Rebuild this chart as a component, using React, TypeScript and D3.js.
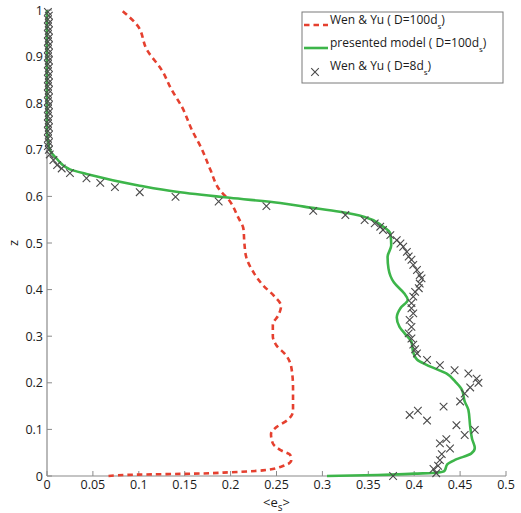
import React from "react";
import * as d3 from "d3";

const xTicks = [0, 0.05, 0.1, 0.15, 0.2, 0.25, 0.3, 0.35, 0.4, 0.45, 0.5];
const yTicks = [0, 0.1, 0.2, 0.3, 0.4, 0.5, 0.6, 0.7, 0.8, 0.9, 1];

// Wen & Yu (D=100ds): [e_s, z]
const wenYu100: [number, number][] = [
  [0.067, 0], [0.1, 0.003], [0.16, 0.005], [0.2, 0.008], [0.235, 0.012], [0.255, 0.02],
  [0.266, 0.033], [0.265, 0.045], [0.255, 0.055], [0.246, 0.07], [0.244, 0.09], [0.25, 0.105],
  [0.262, 0.12], [0.268, 0.14], [0.268, 0.19], [0.266, 0.235], [0.26, 0.26], [0.25, 0.28],
  [0.246, 0.3], [0.246, 0.325], [0.252, 0.345], [0.255, 0.365], [0.248, 0.385], [0.235, 0.41],
  [0.224, 0.44], [0.217, 0.47], [0.215, 0.5], [0.214, 0.53], [0.208, 0.556], [0.199, 0.59],
  [0.188, 0.614], [0.178, 0.657], [0.169, 0.7], [0.158, 0.742], [0.147, 0.792], [0.136, 0.828],
  [0.125, 0.871], [0.109, 0.914], [0.098, 0.968], [0.081, 1.0],
];

// presented model (D=100ds)
const model100: [number, number][] = [
  [0.305, 0], [0.36, 0.002], [0.4, 0.005], [0.425, 0.007], [0.433, 0.011], [0.436, 0.025],
  [0.445, 0.035], [0.462, 0.048], [0.466, 0.06], [0.463, 0.08], [0.461, 0.106], [0.459, 0.142],
  [0.455, 0.16], [0.452, 0.185], [0.446, 0.2], [0.435, 0.22], [0.414, 0.238], [0.403, 0.25],
  [0.399, 0.265], [0.397, 0.288], [0.39, 0.305], [0.384, 0.32], [0.381, 0.34], [0.385, 0.36],
  [0.393, 0.378], [0.389, 0.392], [0.378, 0.415], [0.372, 0.445], [0.371, 0.47], [0.375, 0.495],
  [0.374, 0.52], [0.364, 0.538], [0.346, 0.556], [0.319, 0.567], [0.28, 0.578], [0.254, 0.586],
  [0.199, 0.597], [0.141, 0.61], [0.101, 0.623], [0.043, 0.648], [0.025, 0.658], [0.011, 0.68],
  [0.003, 0.7], [0.001, 0.72], [0, 0.75], [0, 1.0],
];

// Wen & Yu (D=8ds) markers
const wenYu8: [number, number][] = [
  [0.377, 0], [0.424, 0.006], [0.421, 0.015], [0.426, 0.022], [0.428, 0.034], [0.43, 0.047],
  [0.439, 0.059], [0.428, 0.07], [0.435, 0.079], [0.455, 0.088], [0.466, 0.099], [0.446, 0.109],
  [0.414, 0.119], [0.395, 0.131], [0.404, 0.14], [0.432, 0.149], [0.45, 0.16], [0.455, 0.177],
  [0.461, 0.19], [0.47, 0.2], [0.468, 0.209], [0.459, 0.22], [0.444, 0.227], [0.428, 0.238],
  [0.414, 0.249], [0.403, 0.263], [0.401, 0.272], [0.399, 0.282], [0.397, 0.295], [0.394, 0.306],
  [0.397, 0.32], [0.395, 0.335], [0.399, 0.349], [0.397, 0.36], [0.397, 0.371], [0.399, 0.385],
  [0.401, 0.395], [0.405, 0.403], [0.406, 0.413], [0.408, 0.424], [0.406, 0.431], [0.403, 0.442],
  [0.399, 0.453], [0.397, 0.464], [0.394, 0.471], [0.392, 0.481], [0.388, 0.492], [0.385, 0.499],
  [0.381, 0.506], [0.374, 0.517], [0.366, 0.528], [0.363, 0.535], [0.357, 0.542], [0.346, 0.549],
  [0.325, 0.56], [0.29, 0.569], [0.239, 0.579], [0.187, 0.589], [0.14, 0.599], [0.101, 0.609],
  [0.074, 0.62], [0.058, 0.629], [0.043, 0.639], [0.025, 0.65], [0.016, 0.66], [0.011, 0.667],
  [0.007, 0.678], [0.003, 0.69], [0.002, 0.7], [0.001, 0.708], [0.002, 0.716], [0.001, 0.724],
  [0.002, 0.732], [0.001, 0.74], [0.002, 0.748], [0.001, 0.756], [0.002, 0.764], [0.001, 0.772],
  [0.002, 0.78], [0.001, 0.788], [0.002, 0.796], [0.001, 0.804], [0.002, 0.812], [0.001, 0.82],
  [0.002, 0.828], [0.001, 0.836], [0.002, 0.844], [0.001, 0.852], [0.002, 0.86], [0.001, 0.868],
  [0.002, 0.876], [0.001, 0.884], [0.002, 0.892], [0.001, 0.9], [0.002, 0.908], [0.001, 0.916],
  [0.002, 0.924], [0.001, 0.932], [0.002, 0.94], [0.001, 0.948], [0.002, 0.956], [0.001, 0.964],
  [0.002, 0.972], [0.001, 0.98], [0.002, 0.988], [0.001, 0.996],
];

const RED = "#e5402f";
const GREEN = "#3db54a";
const MARK = "#4a4a4a";
const AXIS = "#8a8a8a";
const FONT = "'Open Sans', 'Liberation Sans', Arial, sans-serif";

export default function App() {
  const W = 521, H = 513;
  const x = d3.scaleLinear().domain([0, 0.5]).range([47, 506]);
  const y = d3.scaleLinear().domain([0, 1]).range([476, 10]);
  const line = d3.line<[number, number]>().x((d) => x(d[0])).y((d) => y(d[1])).curve(d3.curveMonotoneY);
  const fmt = (v: number) => (v === 0 ? "0" : v === 1 ? "1" : String(v));
  const cross = (cx: number, cy: number, k: number) => {
    const s = 3.8;
    return (
      <path key={k} d={`M${cx - s},${cy - s}L${cx + s},${cy + s}M${cx - s},${cy + s}L${cx + s},${cy - s}`}
        stroke={MARK} strokeWidth={1.1} fill="none" />
    );
  };
  return (
    <svg width={W} height={H} style={{ position: "absolute", left: 0, top: 0, background: "#fff" }} fontFamily={FONT}>
      <rect width={W} height={H} fill="#fff" />
      {/* axes */}
      <line x1={x(0)} x2={x(0.5)} y1={y(0)} y2={y(0)} stroke={AXIS} strokeWidth={1.2} />
      <line x1={x(0)} x2={x(0)} y1={y(0)} y2={y(1)} stroke={AXIS} strokeWidth={1.2} />
      {xTicks.map((t) => (
        <g key={"xt" + t}>
          <line x1={x(t)} x2={x(t)} y1={y(0)} y2={y(0) - 5} stroke={AXIS} strokeWidth={1} />
          <text x={x(t)} y={y(0) + 13} fontSize={12.5} textAnchor="middle" fill="#1a1a1a">{fmt(t)}</text>
        </g>
      ))}
      {yTicks.map((t) => (
        <g key={"yt" + t}>
          <line x1={x(0)} x2={x(0) + 5} y1={y(t)} y2={y(t)} stroke={AXIS} strokeWidth={1} />
          <text x={x(0) - 4} y={y(t) + 4.5} fontSize={12.5} textAnchor="end" fill="#1a1a1a">{fmt(t)}</text>
        </g>
      ))}
      {/* axis labels */}
      <text transform={`translate(18,${y(0.5)}) rotate(-90)`} fontSize={13} textAnchor="middle" fill="#1a1a1a">z</text>
      <text x={x(0.25)} y={507} fontSize={13} textAnchor="middle" fill="#1a1a1a">
        &lt;e<tspan fontSize={10} dy={4}>s</tspan><tspan dy={-4}>&gt;</tspan>
      </text>
      {/* series */}
      <path d={line(wenYu100) || ""} fill="none" stroke={RED} strokeWidth={2.6} strokeDasharray="5.5,4" />
      <path d={line(model100) || ""} fill="none" stroke={GREEN} strokeWidth={2.6} />
      {wenYu8.map((d, i) => cross(x(d[0]), y(d[1]), i))}
      {/* legend */}
      <g>
        <rect x={302} y={12} width={201} height={71} fill="#fff" stroke="#7a7a7a" strokeWidth={1} />
        <line x1={304} x2={328} y1={25} y2={25} stroke={RED} strokeWidth={2.6} strokeDasharray="5.5,4" />
        <line x1={304} x2={328} y1={48} y2={48} stroke={GREEN} strokeWidth={2.6} />
        {cross(315, 72, 9999)}
        <text x={330} y={24} fontSize={12} fill="#1a1a1a">Wen &amp; Yu ( D=100d<tspan fontSize={8} dy={5}>s</tspan><tspan dy={-5}>)</tspan></text>
        <text x={330} y={47} fontSize={12} fill="#1a1a1a">presented model ( D=100d<tspan fontSize={8} dy={5}>s</tspan><tspan dy={-5}>)</tspan></text>
        <text x={330} y={70} fontSize={12} fill="#1a1a1a">Wen &amp; Yu ( D=8d<tspan fontSize={8} dy={5}>s</tspan><tspan dy={-5}>)</tspan></text>
      </g>
    </svg>
  );
}
